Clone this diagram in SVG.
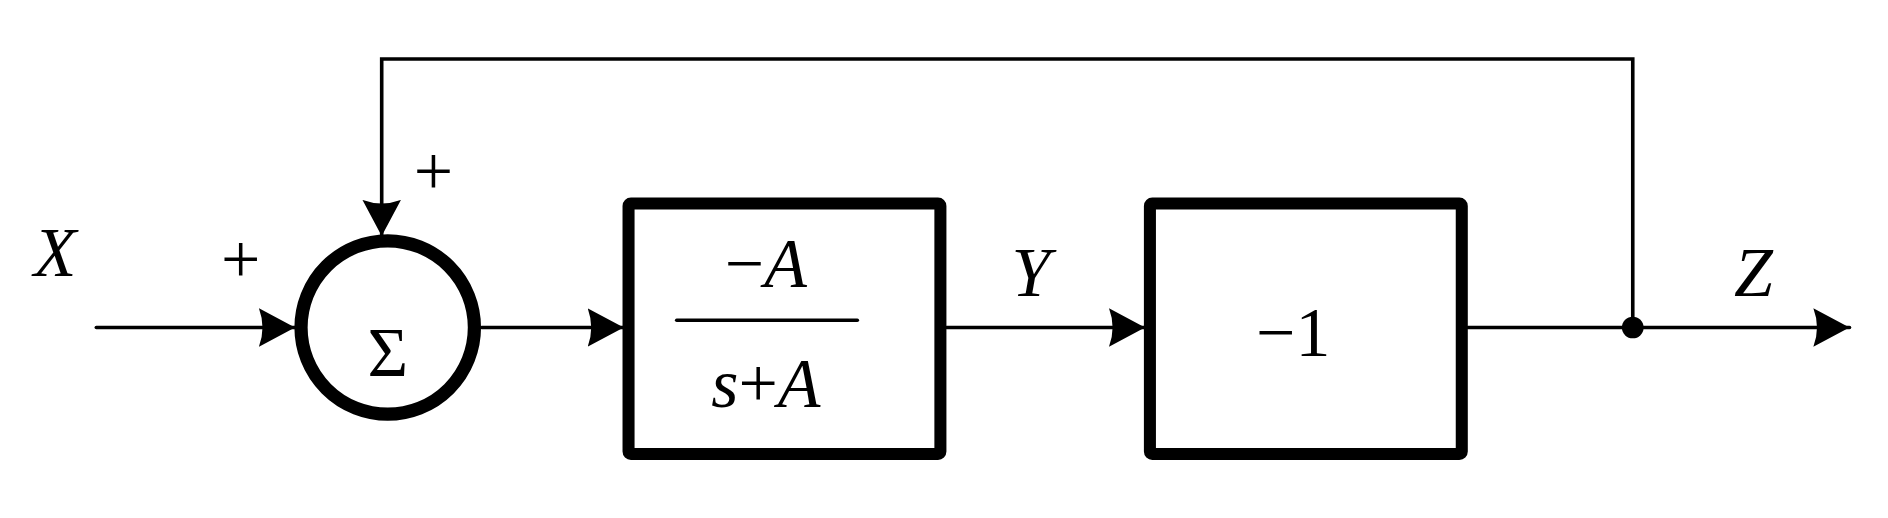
<svg xmlns="http://www.w3.org/2000/svg" width="1888" height="518" viewBox="0 0 1888 518">
<style>
.t{font-family:"Liberation Serif",serif;font-style:italic;font-size:58px;fill:#000}
.r{font-family:"Liberation Serif",serif;font-size:58px;fill:#000}
.ln{stroke:#000;stroke-width:3;fill:none;stroke-linecap:round}
.blk{stroke:#000;stroke-width:10;fill:#fff;stroke-linejoin:round}
</style>
<defs>
<marker id="ar" viewBox="0 0 30 32" refX="30" refY="16" markerWidth="30" markerHeight="32" markerUnits="userSpaceOnUse" orient="auto">
<path d="M0,0 L30,16 L0,32 Q6,16 0,0 Z" fill="#000"/>
</marker>
</defs>
<rect width="1888" height="518" fill="#fff"/>
<g transform="scale(1.2041)">
<g id="connectors">
<line class="ln" x1="80" y1="272" x2="245" y2="272" marker-end="url(#ar)"/>
<line class="ln" x1="400" y1="272" x2="518" y2="272" marker-end="url(#ar)"/>
<line class="ln" x1="786" y1="272" x2="951" y2="272" marker-end="url(#ar)"/>
<line class="ln" x1="1219" y1="272" x2="1536" y2="272" marker-end="url(#ar)"/>
<path class="ln" d="M1356,272 V49 H317 V196" marker-end="url(#ar)"/>
<circle cx="1356" cy="272" r="9" fill="#000"/>
</g>
<g id="sum">
<circle cx="322" cy="272" r="72" fill="#fff" stroke="#000" stroke-width="11"/>
<text class="r" x="322" y="312" text-anchor="middle" font-size="100">Σ</text>
</g>
<g id="block1">
<rect class="blk" x="522" y="169" width="259" height="208" rx="2"/>
<text class="t" x="636" y="238" text-anchor="middle"><tspan font-style="normal">−</tspan>A</text>
<line x1="562" y1="266" x2="712" y2="266" stroke="#000" stroke-width="3" stroke-linecap="round"/>
<text class="t" x="636" y="338" text-anchor="middle">s<tspan font-style="normal">+</tspan>A</text>
</g>
<g id="block2">
<rect class="blk" x="955" y="169" width="259" height="208" rx="2"/>
<text class="r" x="1074" y="296" text-anchor="middle">−1</text>
</g>
<g id="labels">
<text class="t" x="28" y="229">X</text>
<text class="r" x="200" y="235" text-anchor="middle">+</text>
<text class="r" x="360" y="162" text-anchor="middle">+</text>
<text class="t" x="840" y="246">Y</text>
<text class="t" x="1440" y="246">Z</text>
</g>
</g>
</svg>
